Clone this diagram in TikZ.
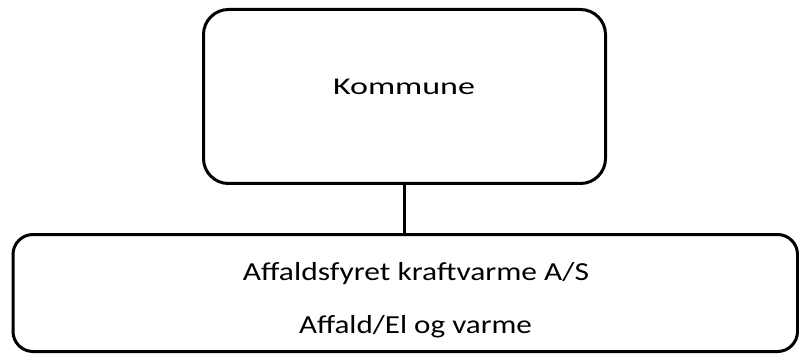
\documentclass[tikz,border=0pt]{standalone}
\usepackage{fontspec}
\setmainfont{Carlito}
\usepackage{graphicx}
\newcommand\fitw[2]{\resizebox{#1}{\height}{#2}}
\begin{document}
\begin{tikzpicture}[x=1pt,y=-1pt,
  orgbox/.style={draw=black,line width=3pt,rounded corners=#1},
  lbl/.style={inner sep=0pt,anchor=base,text=black}]
\useasboundingbox[fill=white] (0,0) rectangle (799,355);
\draw[orgbox=25pt] (203.5,9.5) rectangle (605.5,183.5);
\draw[orgbox=20pt] (13,234.5) rectangle (797.5,351.5);
\coordinate (top) at (404,183.5);
\coordinate (bot) at (404,234.5);
\draw[line width=3pt] (top) -- (bot);
\node[lbl,font=\fontsize{24}{28}\selectfont] (k) at (404,94.5) {\fitw{142pt}{Kommune}};
\node[lbl,font=\fontsize{26}{30}\selectfont] (a1) at (416,280) {\fitw{346pt}{Affaldsfyret kraftvarme A/S}};
\node[lbl,font=\fontsize{26}{30}\selectfont] (a2) at (415.5,333) {\fitw{233pt}{Affald/El og varme}};
\end{tikzpicture}
\end{document}
